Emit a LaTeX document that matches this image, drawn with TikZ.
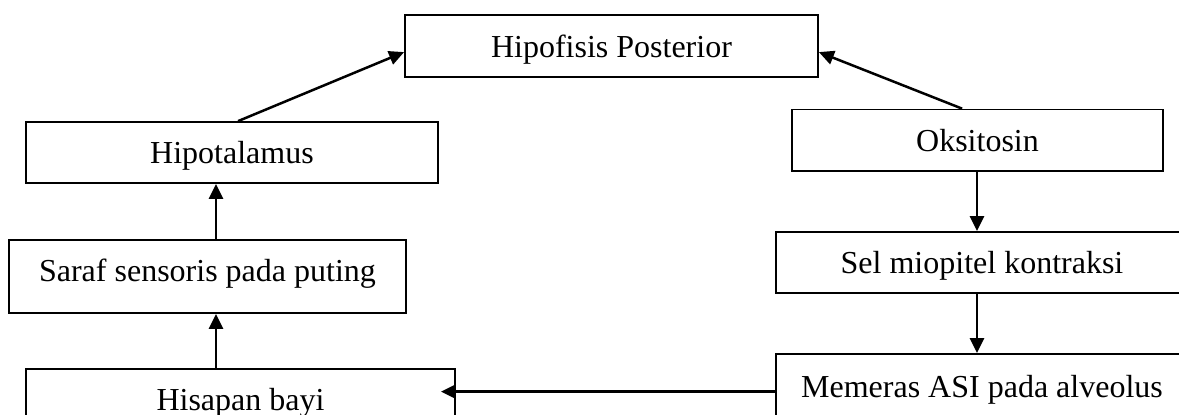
\documentclass[tikz,border=0pt]{standalone}
\usepackage{fontspec}
\setmainfont{Liberation Serif}
\usetikzlibrary{arrows.meta,calc}
\begin{document}
\begin{tikzpicture}[x=1pt,y=-1pt,
  box/.style={draw=black, line width=1.8pt, inner sep=0pt, text height=22pt, text depth=0pt,
    font=\fontsize{32}{38}\selectfont},
  arr/.style={line width=2.5pt, -{Triangle[length=15pt,width=14pt]}}]
\useasboundingbox (0,0) rectangle (1179,415);
\clip (0,0) rectangle (1179,415);
\node[box, minimum width=413pt, minimum height=62pt] (hp) at (611.5,46) {Hipofisis Posterior};
\node[box, minimum width=412pt, minimum height=61pt] (hy) at (232,152.5) {Hipotalamus};
\node[box, minimum width=371pt, minimum height=61.5pt] (ok) at (977.5,140.3) {Oksitosin};
\node[box, minimum width=397pt, minimum height=73pt, text depth=11.6pt] (sa) at (207.5,276.5) {Saraf sensoris pada puting};
\node[box, minimum width=412pt, minimum height=61pt] (se) at (982,262.5) {Sel miopitel kontraksi};
\node[box, minimum width=429pt, minimum height=60pt] (hi) at (240.5,399) {Hisapan bayi};
\node[box, minimum width=412pt, minimum height=64pt] (me) at (982,386) {Memeras ASI pada alveolus};
\coordinate (xl) at (216,0);
\coordinate (xr) at (977,0);
\draw[arr] ($(hy.north west)+(213,0)$) -- ($(hp.north west)+(0,38)$);
\draw[arr] ($(ok.north west)+(171,0)$) -- ($(hp.north east)+(0,38)$);
\draw[arr] (ok.south -| xr) -- (se.north -| xr);
\draw[arr] (se.south -| xr) -- (me.north -| xr);
\draw[arr] ($(me.north west)+(0,38.5)$) -- ($(hi.north east)+(-15,23.5)$);
\draw[arr] (hi.north -| xl) -- (sa.south -| xl);
\draw[arr] (sa.north -| xl) -- (hy.south -| xl);
\end{tikzpicture}
\end{document}
